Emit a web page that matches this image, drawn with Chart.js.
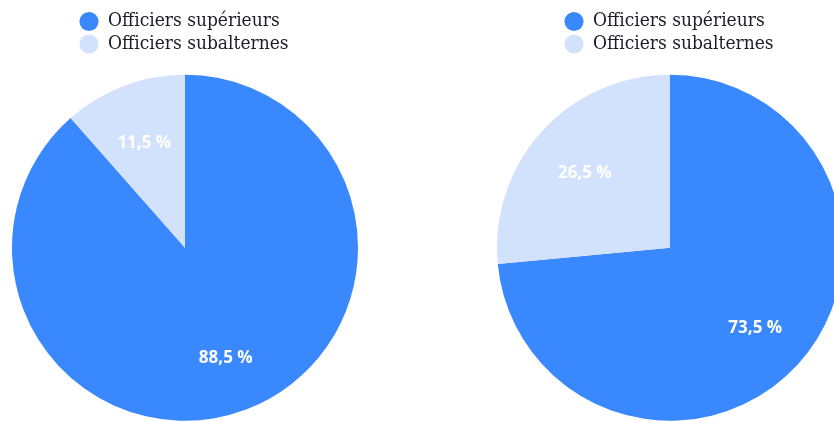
<!DOCTYPE html>
<html>
<head>
<meta charset="utf-8">
<script src="https://cdn.jsdelivr.net/npm/chart.js@4/dist/chart.umd.min.js"></script>
<style>
  html, body { margin: 0; padding: 0; background: #ffffff; width: 834px; height: 421px; overflow: hidden; }
  .pie-box { position: absolute; top: 0; width: 370px; height: 432px; }
  #boxLeft { left: 0; }
  #boxRight { left: 485px; }
</style>
</head>
<body>
<div class="pie-box" id="boxLeft"><canvas id="pieLeft"></canvas></div>
<div class="pie-box" id="boxRight"><canvas id="pieRight"></canvas></div>
<script>
// Data
const categories = ['Officiers supérieurs', 'Officiers subalternes'];
const leftValues = [88.5, 11.5];
const rightValues = [73.5, 26.5];
const sliceColors = ['#3a88fe', '#d3e2fc'];

// Draws "xx,x %" inside each slice, about two thirds out from the centre
const sliceLabels = {
    id: 'sliceLabels',
    afterDatasetsDraw(chart) {
        const ctx = chart.ctx;
        const meta = chart.getDatasetMeta(0);
        const values = chart.data.datasets[0].data;
        ctx.save();
        ctx.font = "bold 17px 'Open Sans', sans-serif";
        ctx.fillStyle = '#ffffff';
        ctx.textAlign = 'center';
        ctx.textBaseline = 'middle';
        meta.data.forEach((arc, i) => {
            const mid = (arc.startAngle + arc.endAngle) / 2;
            const r = arc.outerRadius * 0.666;
            const txt = values[i].toFixed(1).replace('.', ',') + ' %';
            ctx.fillText(txt, arc.x + Math.cos(mid) * r, arc.y + Math.sin(mid) * r + 3);
        });
        ctx.restore();
    }
};

function renderPie(canvasId, values) {
    const ctx = document.getElementById(canvasId).getContext('2d');
    return new Chart(ctx, {
        type: 'pie',
        data: {
            labels: categories,
            datasets: [{
                data: values,
                backgroundColor: sliceColors,
                borderWidth: 0,
                hoverOffset: 0
            }]
        },
        options: {
            responsive: true,
            maintainAspectRatio: false,
            animation: false,
            events: [],
            radius: 173,
            layout: { padding: { top: 8.5, left: 76, right: 76, bottom: 0 } },
            plugins: {
                tooltip: { enabled: false },
                legend: {
                    position: 'top',
                    align: 'start',
                    labels: {
                        usePointStyle: true,
                        pointStyle: 'circle',
                        boxWidth: 19,
                        boxHeight: 13.5,
                        padding: 3.5,
                        color: '#1c1c28',
                        font: { family: "'DejaVu Serif Condensed', 'Liberation Serif', serif", size: 19 }
                    }
                }
            }
        },
        plugins: [sliceLabels]
    });
}

renderPie('pieLeft', leftValues);
renderPie('pieRight', rightValues);
</script>
</body>
</html>
